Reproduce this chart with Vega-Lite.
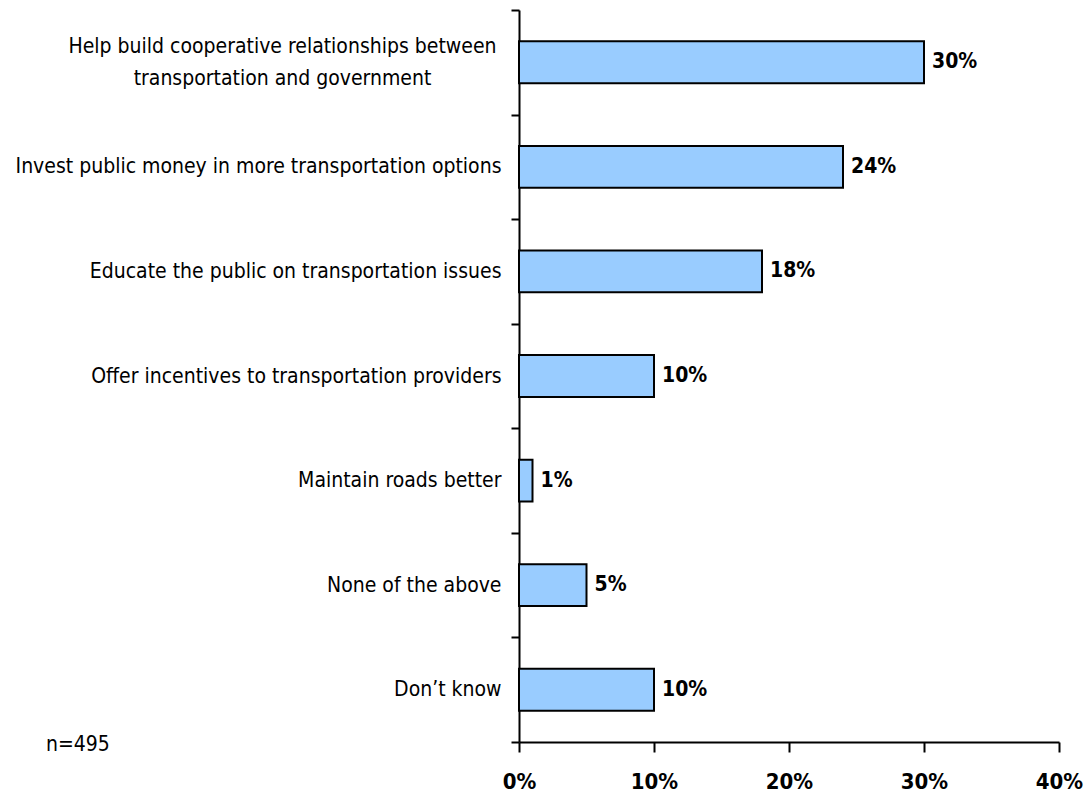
{
  "$schema": "https://vega.github.io/schema/vega-lite/v6.json",
  "autosize": {"type": "none"},
  "width": 540,
  "height": 732,
  "padding": {"left": 519, "top": 10, "right": 27, "bottom": 55},
  "background": "white",
  "title": {"text": "n=495", "orient": "bottom", "anchor": "start", "frame": "group", "dx": -473, "dy": -62, "font": "DejaVu Sans Condensed", "fontSize": 21, "fontWeight": "normal", "color": "#000"},
  "data": {"values": [
    {"item": "Help build cooperative relationships between transportation and government", "pct": 0.30},
    {"item": "Invest public money in more transportation options", "pct": 0.24},
    {"item": "Educate the public on transportation issues", "pct": 0.18},
    {"item": "Offer incentives to transportation providers", "pct": 0.10},
    {"item": "Maintain roads better", "pct": 0.01},
    {"item": "None of the above", "pct": 0.05},
    {"item": "Don’t know", "pct": 0.10}
  ]},
  "encoding": {
    "y": {"field": "item", "type": "nominal", "sort": null,
      "scale": {"paddingInner": 0, "paddingOuter": 0},
      "axis": {"title": null, "tickBand": "extent", "labelLimit": 600,
        "labelExpr": "datum.value == 'Help build cooperative relationships between transportation and government' ? ['Help build cooperative relationships between', 'transportation and government'] : datum.value",
        "labelAlign": {"condition": {"test": "datum.value == 'Help build cooperative relationships between transportation and government'", "value": "center"}, "value": "right"},
        "labelPadding": {"condition": {"test": "datum.value == 'Help build cooperative relationships between transportation and government'", "value": 229}, "value": 10},
        "labelOffset": {"condition": {"test": "datum.value == 'Help build cooperative relationships between transportation and government'", "value": -16}, "value": 0},
        "labelFont": "DejaVu Sans Condensed", "labelFontSize": 21, "labelColor": "#000", "labelLineHeight": 32,
        "domainColor": "#000", "domainWidth": 2, "tickColor": "#000", "tickWidth": 2, "tickSize": 8}},
    "x": {"field": "pct", "type": "quantitative",
      "scale": {"domain": [0, 0.4]},
      "axis": {"title": null, "values": [0, 0.1, 0.2, 0.3, 0.4], "format": ".0%", "grid": false,
        "labelFont": "DejaVu Sans Condensed", "labelFontWeight": "bold", "labelFontSize": 22, "labelColor": "#000", "labelPadding": 19,
        "domainColor": "#000", "domainWidth": 2, "tickColor": "#000", "tickWidth": 2, "tickSize": 10, "labelFlush": false}}
  },
  "layer": [
    {"mark": {"type": "bar", "fill": "#99CCFF", "stroke": "#000", "strokeWidth": 2, "height": {"band": 0.4}}},
    {"mark": {"type": "text", "align": "left", "baseline": "middle", "dx": 8, "font": "DejaVu Sans Condensed", "fontWeight": "bold", "fontSize": 21, "color": "#000"},
      "encoding": {"text": {"field": "pct", "type": "quantitative", "format": ".0%"}}}
  ],
  "config": {"view": {"stroke": null}}
}
